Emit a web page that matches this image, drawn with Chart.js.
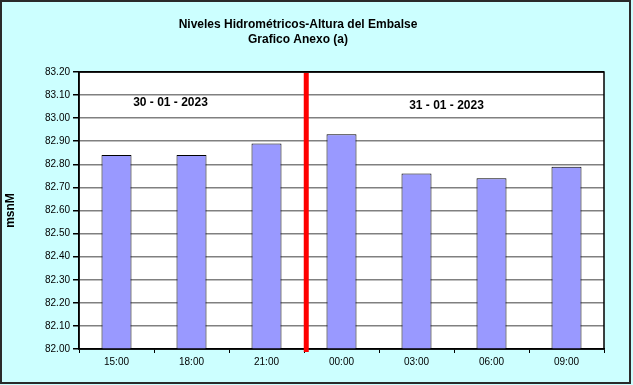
<!DOCTYPE html>
<html>
<head>
<meta charset="utf-8">
<script src="https://cdn.jsdelivr.net/npm/chart.js@4"></script>
<style>
  html, body { margin: 0; padding: 0; background: #ccffff; }
  #wrap { width: 633px; height: 385px; }
</style>
</head>
<body>
<div id="wrap"><canvas id="chart" width="633" height="385"></canvas></div>
<script>
// data
const hours = ['15:00', '18:00', '21:00', '00:00', '03:00', '06:00', '09:00'];
const levels = [82.84, 82.84, 82.89, 82.93, 82.76, 82.74, 82.79];
const titleLines = ['Niveles Hidrométricos-Altura del Embalse', 'Grafico Anexo (a)'];
const dayLabels = ['30 - 01 - 2023', '31 - 01 - 2023'];
const dayLabelPos = [0.72, 4.4];   // category index where each date sits
const dayLabelLevel = [83.065, 83.055];
const dayBreak = 2.53;             // red line between 21:00 and 00:00
const yMin = 82.0, yMax = 83.2, yStep = 0.1;

// background, frame, titles, red day line, date labels
const decor = {
    id: 'decor',
    beforeDraw(chart) {
        const c = chart.ctx;
        c.save();
        c.fillStyle = '#ccffff';
        c.fillRect(0, 0, chart.width, chart.height);
        const a = chart.chartArea;
        c.fillStyle = '#ffffff';
        c.fillRect(a.left, a.top, a.right - a.left, a.bottom - a.top);
        c.restore();
    },
    afterDatasetsDraw(chart) {
        const c = chart.ctx;
        const a = chart.chartArea;
        const x = chart.scales.x, y = chart.scales.y;
        const x0 = x.getPixelForValue(0);
        const cat = x.getPixelForValue(1) - x0;
        c.save();
        // plot frame
        c.strokeStyle = '#000';
        c.lineWidth = 1.5;
        c.strokeRect(a.left, a.top, a.right - a.left, a.bottom - a.top);
        // red separator
        const bx = x0 + dayBreak * cat;
        c.strokeStyle = '#ff0000';
        c.lineWidth = 5;
        c.beginPath();
        c.moveTo(bx, a.top + 1);
        c.lineTo(bx, a.bottom + 3);
        c.stroke();
        // date labels
        c.fillStyle = '#000';
        c.font = 'bold 12px "Liberation Sans", Arial, sans-serif';
        c.textAlign = 'center';
        c.textBaseline = 'middle';
        dayLabels.forEach((t, i) => {
            c.fillText(t, x0 + dayLabelPos[i] * cat, y.getPixelForValue(dayLabelLevel[i]));
        });
        // titles
        c.fillText(titleLines[0], 298, 25);
        c.fillText(titleLines[1], 298, 40);
        // outer border
        c.strokeStyle = '#2a2a2a';
        c.lineWidth = 2;
        c.strokeRect(1, 1, chart.width - 4, chart.height - 3);
        c.restore();
    }
};

const ctx = document.getElementById('chart').getContext('2d');
const levelChart = new Chart(ctx, {
    type: 'bar',
    data: {
        labels: hours,
        datasets: [{
            data: levels,
            backgroundColor: '#9999ff',
            borderColor: '#000000',
            borderWidth: 1,
            borderSkipped: false,
            categoryPercentage: 1.0,
            barPercentage: 0.4
        }]
    },
    options: {
        responsive: false,
        animation: false,
        layout: { padding: { left: 3, right: 29, top: 72, bottom: 0 } },
        plugins: {
            legend: { display: false },
            title: { display: false },
            tooltip: { enabled: false }
        },
        scales: {
            x: {
                offset: true,
                grid: {
                    offset: true,
                    drawOnChartArea: false,
                    tickLength: 4,
                    tickColor: '#000',
                    lineWidth: 1
                },
                border: { color: '#000', width: 1.5 },
                ticks: {
                    color: '#000',
                    font: { family: '"Liberation Sans", Arial, sans-serif', size: 10 },
                    padding: 3,
                    maxRotation: 0
                },
                afterFit(scale) { scale.height = 36; }
            },
            y: {
                min: yMin,
                max: yMax,
                grid: {
                    color: (c) => (c.tick && c.tick.value >= yMax - 1e-6) ? '#000' : '#808080',
                    lineWidth: 1.5,
                    tickLength: 6,
                    tickColor: '#000'
                },
                border: { color: '#000', width: 1.5 },
                ticks: {
                    stepSize: yStep,
                    color: '#000',
                    font: { family: '"Liberation Sans", Arial, sans-serif', size: 10 },
                    padding: 3,
                    callback: (v) => v.toFixed(2)
                },
                title: {
                    display: true,
                    text: 'msnM',
                    color: '#000',
                    font: { family: '"Liberation Sans", Arial, sans-serif', size: 12, weight: 'bold' },
                    padding: { top: 0, bottom: 14 }
                },
                afterFit(scale) { scale.width = 76; }
            }
        }
    },
    plugins: [decor]
});
</script>
</body>
</html>
